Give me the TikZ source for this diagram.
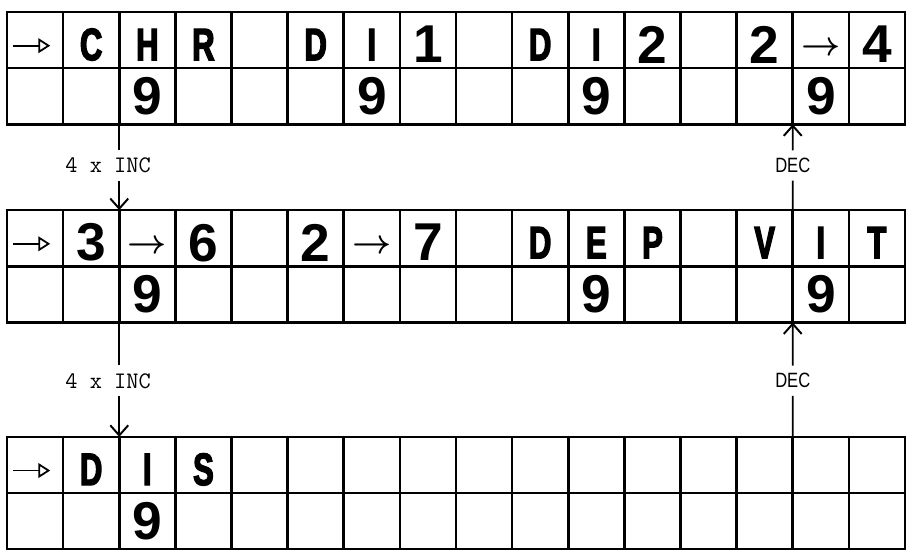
\documentclass[tikz,border=0pt]{standalone}
\usepackage{fontspec}
\usepackage{amsmath}
\usepackage{tikz}
\usetikzlibrary{arrows.meta}
\usetikzlibrary{calc}
\newfontfamily\lcdfont{Liberation Sans Bold}
\newfontfamily\lcdnarrow{Liberation Sans Bold}[FakeStretch=0.68,FakeBold=3]
\newfontfamily\decfont{Liberation Sans}[FakeStretch=0.8]
\tikzset{
  lcdchar/.style={font=\lcdnarrow\fontsize{23}{23}\selectfont,inner sep=0pt},
  lcddigit/.style={font=\lcdfont\fontsize{27}{27}\selectfont,inner sep=0pt},
  lcdarrow/.style={font=\boldmath\fontsize{17}{18}\selectfont,inner sep=0pt,yshift=-2pt},
  inclabel/.style={font=\ttfamily\fontsize{12}{14}\selectfont,xshift=-0.2cm},
  declabel/.style={font=\decfont\fontsize{10.5}{12}\selectfont},
}

\begin{document}
\begin{tikzpicture}[>={Straight Barb[length=1.8mm,width=3.2mm]},line width=1.3pt]

  \useasboundingbox (-0.125,0.214) rectangle (16.125,-9.764);

  % the three displays, 16 x 2 cells each
  \foreach \t in {0,-3.53,-7.57}{
    \draw (0,\t) rectangle (16,\t-2);
    \draw (0,\t-1) -- (16,\t-1);
    \foreach \x in {1,...,15}
      \draw (\x,\t) -- (\x,\t-2);
    \draw [line width=0.9pt,-{Triangle[open,length=2.1mm,width=2.6mm]}] (0.11,\t-0.6) -- (0.77,\t-0.6);
  }

  % display 1
  \foreach \x/\c/\s in {2/C/lcdchar,3/H/lcdchar,4/R/lcdchar,6/D/lcdchar,7/I/lcdchar,8/1/lcddigit,
                        10/D/lcdchar,11/I/lcdchar,12/2/lcddigit,14/2/lcddigit,15/$\rightarrow$/lcdarrow,16/4/lcddigit}
    \node [\s] (a\x) at (\x-0.5,-0.58) {\c};
  \foreach \x in {3,7,11,15}
    \node [lcddigit] (a\x n) at (\x-0.5,-1.5) {9};

  % display 2
  \foreach \x/\c/\s in {2/3/lcddigit,3/$\rightarrow$/lcdarrow,4/6/lcddigit,6/2/lcddigit,7/$\rightarrow$/lcdarrow,8/7/lcddigit,
                        10/D/lcdchar,11/E/lcdchar,12/P/lcdchar,14/V/lcdchar,15/I/lcdchar,16/T/lcdchar}
    \node [\s] (b\x) at (\x-0.5,-3.53-0.58) {\c};
  \foreach \x in {3,11,15}
    \node [lcddigit] (b\x n) at (\x-0.5,-3.53-1.5) {9};

  % display 3
  \foreach \x/\c in {2/D,3/I,4/S}
    \node [lcdchar] (c\x) at (\x-0.5,-7.57-0.58) {\c};
  \node [lcddigit] (c3n) at (2.5,-7.57-1.5) {9};

  % INC and DEC steps
  \coordinate (i1) at (2,-2);     \coordinate (i2) at (2,-3.53);
  \coordinate (i3) at (2,-5.53);  \coordinate (i4) at (2,-7.57);
  \coordinate (d1) at (14,-2);    \coordinate (d2) at (14,-3.53);
  \coordinate (d3) at (14,-5.53); \coordinate (d4) at (14,-7.57);

  \node [inclabel] (inc1) at ($(i1)!0.48!(i2)$) {4 x INC};
  \node [inclabel] (inc2) at ($(i3)!0.51!(i4)$) {4 x INC};
  \node [declabel] (dec1) at ($(d1)!0.48!(d2)$) {DEC};
  \node [declabel] (dec2) at ($(d3)!0.51!(d4)$) {DEC};

  \begin{scope}[line width=1pt]
    \draw (i1) -- (i1 |- inc1.north);
    \draw [->] (i1 |- inc1.south) -- (i2);
    \draw (i3) -- (i3 |- inc2.north);
    \draw [->] (i3 |- inc2.south) -- (i4);
    \draw (d2) -- (dec1.south);
    \draw [->] (dec1.north) -- (d1);
    \draw (d4) -- (dec2.south);
    \draw [->] (dec2.north) -- (d3);
  \end{scope}

\end{tikzpicture}
\end{document}
